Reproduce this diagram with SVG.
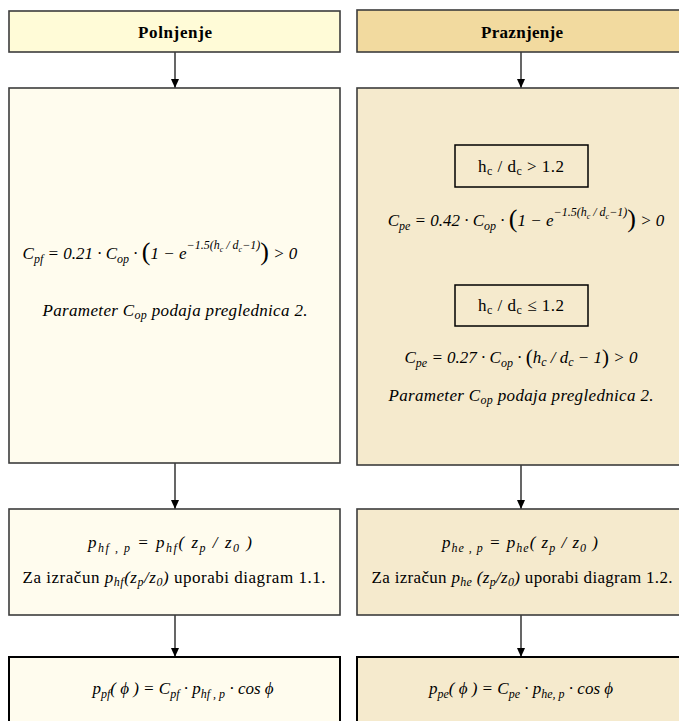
<svg xmlns="http://www.w3.org/2000/svg" width="679" height="721" viewBox="0 0 679 721" font-family="'Liberation Serif', 'Times New Roman', serif">
<style>
.box{stroke:#3c3c3c;stroke-width:1.6}
.lf{fill:#FFFCEE}
.rf{fill:#F5EACD}
.bot{stroke:#000;stroke-width:2}
.hd{font-weight:bold;font-size:17px;text-anchor:middle;fill:#000}
.eq{font-style:italic;font-size:17px;text-anchor:middle;fill:#000}
.tx{font-size:17px;text-anchor:middle;fill:#000}
.it{font-style:italic}
.up{font-style:normal}
.cn{stroke:#000;stroke-width:1.2;fill:none}
</style>
<defs>
<marker id="ah" markerWidth="10" markerHeight="10" refX="9" refY="5" orient="auto" markerUnits="userSpaceOnUse">
<path d="M0,1 L9,5 L0,9 Z" fill="#000"/>
</marker>
</defs>
<rect width="679" height="721" fill="#fff"/>
<g id="connectors">
<line class="cn" x1="175" y1="52" x2="175" y2="88" marker-end="url(#ah)"/>
<line class="cn" x1="521" y1="52" x2="521" y2="88" marker-end="url(#ah)"/>
<line class="cn" x1="175" y1="463" x2="175" y2="509" marker-end="url(#ah)"/>
<line class="cn" x1="521" y1="465" x2="521" y2="509" marker-end="url(#ah)"/>
<line class="cn" x1="175" y1="615" x2="175" y2="657" marker-end="url(#ah)"/>
<line class="cn" x1="521" y1="615" x2="521" y2="657" marker-end="url(#ah)"/>
</g>
<g id="hdr-left">
<rect class="box" x="9" y="11" width="331" height="41" fill="#FFFBD7"/>
<text class="hd" x="175" y="38" textLength="74" lengthAdjust="spacing">Polnjenje</text>
</g>
<g id="hdr-right">
<rect class="box" x="357" y="10" width="340" height="42" fill="#F2DA9F"/>
<text class="hd" x="522" y="38" textLength="82" lengthAdjust="spacing">Praznjenje</text>
</g>
<g id="calc-left">
<rect class="box lf" x="9" y="88" width="331" height="375"/>
<text class="eq" x="160" y="259" font-size="17.5">C<tspan dy="4" font-size="12">pf</tspan><tspan dy="-4"> = 0.21 · C</tspan><tspan dy="4" font-size="12">op</tspan><tspan dy="-4"> · </tspan><tspan class="up" font-size="26" dy="1">(</tspan><tspan dy="-1">1 − e</tspan><tspan dy="-10" font-size="12">−1.5(h</tspan><tspan dy="3" font-size="8">c</tspan><tspan dy="-3" font-size="12"> / d</tspan><tspan dy="3" font-size="8">c</tspan><tspan dy="-3" font-size="12">−1)</tspan><tspan dy="11" class="up" font-size="26">)</tspan><tspan dy="-1"> &gt; 0</tspan></text>
<text class="tx it" x="175" y="316" font-size="17.5" textLength="265" lengthAdjust="spacing">Parameter C<tspan dy="3" font-size="12">op</tspan><tspan dy="-3"> podaja preglednica 2.</tspan></text>
</g>
<g id="calc-right">
<rect class="box rf" x="357" y="88" width="340" height="377"/>
<g id="cond1">
<rect x="455" y="145" width="133" height="42" fill="none" stroke="#000" stroke-width="1.5"/>
<text class="tx" x="521" y="172" textLength="86" lengthAdjust="spacing">h<tspan dy="3" font-size="12">c</tspan><tspan dy="-3"> / d</tspan><tspan dy="3" font-size="12">c</tspan><tspan dy="-3"> &gt; 1.2</tspan></text>
</g>
<text class="eq" x="526" y="226">C<tspan dy="4" font-size="12">pe</tspan><tspan dy="-4"> = 0.42 · C</tspan><tspan dy="4" font-size="12">op</tspan><tspan dy="-4"> · </tspan><tspan class="up" font-size="26" dy="1">(</tspan><tspan dy="-1">1 − e</tspan><tspan dy="-10" font-size="12">−1.5(h</tspan><tspan dy="3" font-size="8">c</tspan><tspan dy="-3" font-size="12"> / d</tspan><tspan dy="3" font-size="8">c</tspan><tspan dy="-3" font-size="12">−1)</tspan><tspan dy="11" class="up" font-size="26">)</tspan><tspan dy="-1"> &gt; 0</tspan></text>
<g id="cond2">
<rect x="455" y="285" width="133" height="41" fill="none" stroke="#000" stroke-width="1.5"/>
<text class="tx" x="521" y="311" textLength="86" lengthAdjust="spacing">h<tspan dy="3" font-size="12">c</tspan><tspan dy="-3"> / d</tspan><tspan dy="3" font-size="12">c</tspan><tspan dy="-3"> ≤ 1.2</tspan></text>
</g>
<text class="eq" x="521" y="363">C<tspan dy="4" font-size="12">pe</tspan><tspan dy="-4"> = 0.27 · C</tspan><tspan dy="4" font-size="12">op</tspan><tspan dy="-4"> · </tspan><tspan class="up" font-size="21" dy="1">(</tspan><tspan dy="-1">h</tspan><tspan dy="3" font-size="12">c</tspan><tspan dy="-3"> / d</tspan><tspan dy="3" font-size="12">c</tspan><tspan dy="-3"> − 1</tspan><tspan class="up" font-size="21" dy="1">)</tspan><tspan dy="-1"> &gt; 0</tspan></text>
<text class="tx it" x="521" y="401" font-size="17.5" textLength="265" lengthAdjust="spacing">Parameter C<tspan dy="3" font-size="12">op</tspan><tspan dy="-3"> podaja preglednica 2.</tspan></text>
</g>
<g id="ph-left">
<rect class="box lf" x="9" y="509" width="331" height="106"/>
<text class="eq" x="170" y="548" font-size="19" textLength="164" lengthAdjust="spacing">p<tspan dy="4" font-size="12">hf , p</tspan><tspan dy="-4"> = p</tspan><tspan dy="4" font-size="12">hf</tspan><tspan dy="-4">( z</tspan><tspan dy="4" font-size="12">p</tspan><tspan dy="-4"> / z</tspan><tspan dy="4" font-size="12">0</tspan><tspan dy="-4"> )</tspan></text>
<text class="tx" x="174" y="583" font-size="18" textLength="303" lengthAdjust="spacing">Za izračun <tspan class="it">p</tspan><tspan class="it" dy="3" font-size="12">hf</tspan><tspan class="it" dy="-3">(z</tspan><tspan class="it" dy="3" font-size="12">p</tspan><tspan class="it" dy="-3">/z</tspan><tspan class="it" dy="3" font-size="12">0</tspan><tspan class="it" dy="-3">)</tspan> uporabi diagram 1.1.</text>
</g>
<g id="ph-right">
<rect class="box rf" x="357" y="509" width="340" height="106"/>
<text class="eq" x="520" y="548" font-size="19" textLength="156" lengthAdjust="spacing">p<tspan dy="4" font-size="12">he , p</tspan><tspan dy="-4"> = p</tspan><tspan dy="4" font-size="12">he</tspan><tspan dy="-4">( z</tspan><tspan dy="4" font-size="12">p</tspan><tspan dy="-4"> / z</tspan><tspan dy="4" font-size="12">0</tspan><tspan dy="-4"> )</tspan></text>
<text class="tx" x="522" y="583" font-size="18" textLength="301" lengthAdjust="spacing">Za izračun <tspan class="it">p</tspan><tspan class="it" dy="3" font-size="12">he</tspan><tspan class="it" dy="-3"> (z</tspan><tspan class="it" dy="3" font-size="12">p</tspan><tspan class="it" dy="-3">/z</tspan><tspan class="it" dy="3" font-size="12">0</tspan><tspan class="it" dy="-3">)</tspan> uporabi diagram 1.2.</text>
</g>
<g id="pp-left">
<rect class="lf bot" x="9" y="657" width="331" height="80"/>
<text class="eq" x="183" y="694">p<tspan dy="4" font-size="12">pf</tspan><tspan dy="-4">( ϕ ) = C</tspan><tspan dy="4" font-size="12">pf</tspan><tspan dy="-4"> · p</tspan><tspan dy="4" font-size="12">hf , p</tspan><tspan dy="-4"> · cos ϕ</tspan></text>
</g>
<g id="pp-right">
<rect class="rf bot" x="357" y="657" width="340" height="80"/>
<text class="eq" x="521" y="694">p<tspan dy="4" font-size="12">pe</tspan><tspan dy="-4">( ϕ ) = C</tspan><tspan dy="4" font-size="12">pe</tspan><tspan dy="-4"> · p</tspan><tspan dy="4" font-size="12">he, p</tspan><tspan dy="-4"> · cos ϕ</tspan></text>
</g>
</svg>
